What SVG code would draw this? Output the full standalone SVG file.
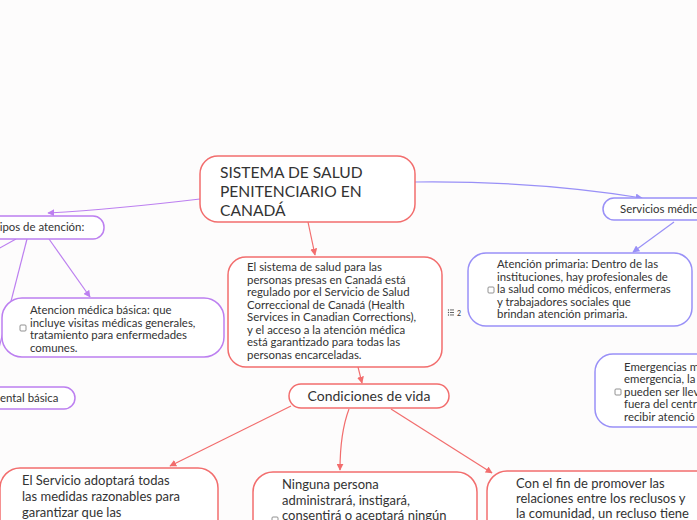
<svg xmlns="http://www.w3.org/2000/svg" width="697" height="520" viewBox="0 0 697 520">
<style>
text{font-family:Lato,"Noto Sans","DejaVu Sans",sans-serif;fill:#333333}
.red{fill:#ffffff;stroke:#f26d6d;stroke-width:1.5}
.pur{fill:#ffffff;stroke:#bc7ff0;stroke-width:1.5}
.blu{fill:#ffffff;stroke:#9990f7;stroke-width:1.5}
.cr{fill:none;stroke:#f26d6d;stroke-width:1.2}
.cp{fill:none;stroke:#bc7ff0;stroke-width:1.2}
.cb{fill:none;stroke:#9990f7;stroke-width:1.2}
.cbx{fill:#ffffff;stroke:#777777;stroke-width:0.8}
.t{font-size:11.4px}
.m{font-size:13px}
</style>
<defs>
<marker id="ar" viewBox="0 0 10 10" refX="9" refY="5" markerWidth="7" markerHeight="7" orient="auto" markerUnits="userSpaceOnUse"><path d="M0,0 L10,5 L0,10 z" fill="#f26d6d"/></marker>
<marker id="ap" viewBox="0 0 10 10" refX="9" refY="5" markerWidth="7" markerHeight="7" orient="auto" markerUnits="userSpaceOnUse"><path d="M0,0 L10,5 L0,10 z" fill="#bc7ff0"/></marker>
<marker id="ab" viewBox="0 0 10 10" refX="9" refY="5" markerWidth="7" markerHeight="7" orient="auto" markerUnits="userSpaceOnUse"><path d="M0,0 L10,5 L0,10 z" fill="#9990f7"/></marker>
</defs>
<rect width="697" height="520" fill="#fdfcfc"/>
<g id="connectors">
<path class="cp" d="M200,199 C150,205 100,210 48,213" marker-end="url(#ap)"/>
<path class="cp" d="M16,239 L-2,249"/>
<path class="cp" d="M27,239 L-2,352"/>
<path class="cp" d="M49,239 L90,297" marker-end="url(#ap)"/>
<path class="cb" d="M415,182 C500,181 580,188 642,198" marker-end="url(#ab)"/>
<path class="cb" d="M674,222 L633,252" marker-end="url(#ab)"/>
<path class="cr" d="M308,222 L315,255" marker-end="url(#ar)"/>
<path class="cr" d="M358,367 L362,383" marker-end="url(#ar)"/>
<path class="cr" d="M291,406 L170,466" marker-end="url(#ar)"/>
<path class="cr" d="M349,409 C343,425 340,445 340,470" marker-end="url(#ar)"/>
<path class="cr" d="M391,409 L492,473" marker-end="url(#ar)"/>
</g>
<g id="central">
<rect class="red" x="200" y="156" width="215" height="66" rx="18"/>
<text x="220" y="178" font-size="15.6">SISTEMA DE SALUD</text>
<text x="220" y="197" font-size="15.6">PENITENCIARIO EN</text>
<text x="220" y="216" font-size="15.6">CANADÁ</text>
</g>
<g id="tipos">
<rect class="pur" x="-20" y="216" width="124" height="23" rx="11"/>
<text x="-7" y="231" class="t">Tipos de atención:</text>
</g>
<g id="basica">
<rect class="pur" x="2" y="298" width="222" height="59" rx="20"/>
<rect class="cbx" x="20" y="325" width="6" height="6" rx="1"/>
<text class="t"><tspan x="30" y="314">Atencion médica básica: que</tspan><tspan x="30" y="327">incluye visitas médicas generales,</tspan><tspan x="30" y="339">tratamiento para enfermedades</tspan><tspan x="30" y="352">comunes.</tspan></text>
</g>
<g id="mental">
<rect class="pur" x="-20" y="387" width="95" height="22" rx="11"/>
<text x="0" y="402" class="t">ental básica</text>
</g>
<g id="sistema">
<rect class="red" x="228" y="257" width="214" height="110" rx="18"/>
<text class="t"><tspan x="247" y="271">El sistema de salud para las</tspan><tspan x="247" y="284">personas presas en Canadá está</tspan><tspan x="247" y="296">regulado por el Servicio de Salud</tspan><tspan x="247" y="309">Correccional de Canadá (Health</tspan><tspan x="247" y="321">Services in Canadian Corrections),</tspan><tspan x="247" y="334">y el acceso a la atención médica</tspan><tspan x="247" y="346">está garantizado para todas las</tspan><tspan x="247" y="359">personas encarceladas.</tspan></text>
<g fill="#555555"><circle cx="448.5" cy="310" r="0.7"/><circle cx="448.5" cy="312.5" r="0.7"/><circle cx="448.5" cy="315" r="0.7"/><rect x="450" y="309.5" width="4" height="0.9"/><rect x="450" y="312" width="4" height="0.9"/><rect x="450" y="314.5" width="4" height="0.9"/></g>
<text x="457" y="316" font-size="7">2</text>
</g>
<g id="condiciones">
<rect class="red" x="289" y="384" width="160" height="24" rx="12"/>
<text x="369" y="401" font-size="14" text-anchor="middle">Condiciones de vida</text>
</g>
<g id="servicio">
<rect class="red" x="0" y="468" width="218" height="80" rx="20"/>
<text class="m"><tspan x="22" y="485">El Servicio adoptará todas</tspan><tspan x="22" y="501">las medidas razonables para</tspan><tspan x="22" y="517">garantizar que las</tspan></text>
</g>
<g id="ninguna">
<rect class="red" x="253" y="472" width="224" height="80" rx="20"/>
<rect class="cbx" x="272" y="517" width="6" height="6" rx="1"/>
<text class="m"><tspan x="282" y="489">Ninguna persona</tspan><tspan x="282" y="505">administrará, instigará,</tspan><tspan x="282" y="520">consentirá o aceptará ningún</tspan></text>
</g>
<g id="confin">
<rect class="red" x="487" y="471" width="240" height="80" rx="20"/>
<text class="m"><tspan x="516" y="488">Con el fin de promover las</tspan><tspan x="516" y="503">relaciones entre los reclusos y</tspan><tspan x="516" y="518">la comunidad, un recluso tiene</tspan></text>
</g>
<g id="servicios">
<rect class="blu" x="603" y="198" width="120" height="22" rx="11"/>
<text x="620" y="213" class="t">Servicios médicos</text>
</g>
<g id="primaria">
<rect class="blu" x="468" y="253" width="224" height="73" rx="18"/>
<rect class="cbx" x="488" y="287" width="6" height="6" rx="1"/>
<text class="t"><tspan x="497" y="268">Atención primaria: Dentro de las</tspan><tspan x="497" y="281">instituciones, hay profesionales de</tspan><tspan x="497" y="293">la salud como médicos, enfermeras</tspan><tspan x="497" y="306">y trabajadores sociales que</tspan><tspan x="497" y="318">brindan atención primaria.</tspan></text>
</g>
<g id="emergencias">
<rect class="blu" x="595" y="354" width="130" height="73" rx="18"/>
<rect class="cbx" x="615" y="389" width="6" height="6" rx="1"/>
<text class="t"><tspan x="624" y="371">Emergencias m</tspan><tspan x="624" y="383">emergencia, la</tspan><tspan x="624" y="396">pueden ser llev</tspan><tspan x="624" y="408">fuera del centr</tspan><tspan x="624" y="421">recibir atenció</tspan></text>
</g>
</svg>
